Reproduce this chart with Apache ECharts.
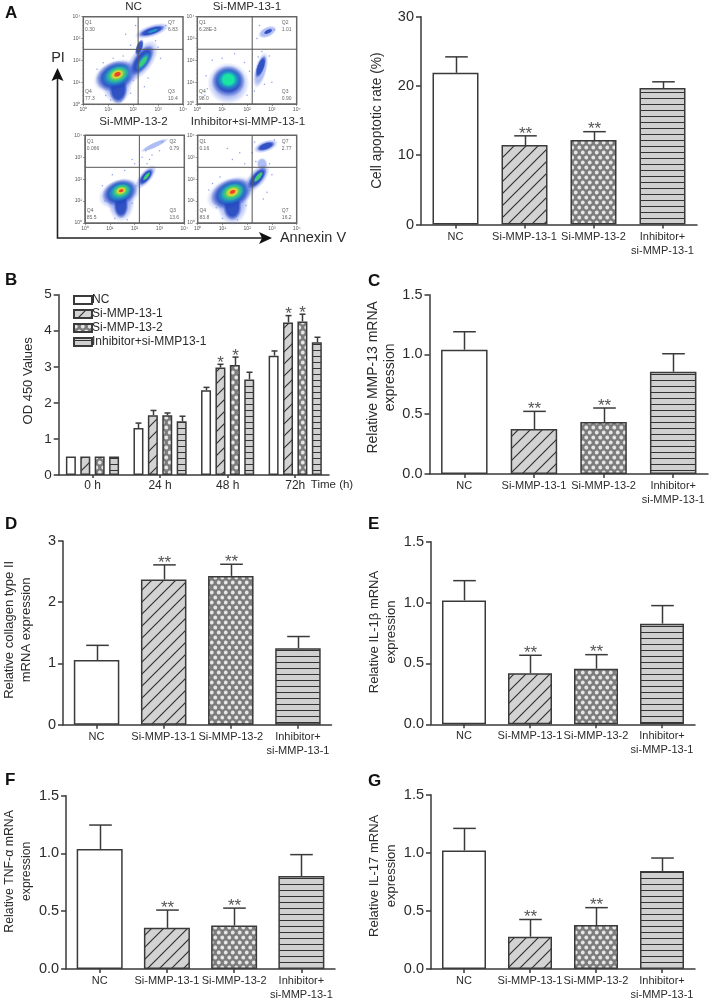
<!DOCTYPE html>
<html><head><meta charset="utf-8">
<style>html,body{margin:0;padding:0;background:#fff}#c{width:709px;height:1002px;filter:blur(0.35px)}</style>
<script src="https://cdn.jsdelivr.net/npm/echarts@6/dist/echarts.min.js"></script>
</head><body><div id="c"></div>
<script>
// ---------- DATA ----------
const categories = ['NC','Si-MMP-13-1','Si-MMP-13-2','Inhibitor+\nsi-MMP-13-1'];
const apoptosisMean = [21.9,11.46,12.2,19.7];
const apoptosisTop  = [24.2,12.8,13.4,20.6];
const apoptosisStar = ['','**','**',''];
const mmp13Mean = [1.04,0.376,0.435,0.856];
const mmp13Top  = [1.19,0.524,0.552,1.006];
const mmp13Star = ['','**','**',''];
const collagenMean = [1.056,2.37,2.43,1.25];
const collagenTop  = [1.296,2.61,2.62,1.44];
const collagenStar = ['','**','**',''];
const il1bMean = [1.018,0.419,0.457,0.827];
const il1bTop  = [1.18,0.567,0.572,0.975];
const il1bStar = ['','**','**',''];
const tnfMean = [1.038,0.356,0.376,0.804];
const tnfTop  = [1.246,0.51,0.527,0.99];
const tnfStar = ['','**','**',''];
const il17Mean = [1.02,0.278,0.378,0.844];
const il17Top  = [1.21,0.426,0.528,0.955];
const il17Star = ['','**','**',''];

const odTimes = ['0 h','24 h','48 h','72h'];
const odNames = ['NC','Si-MMP-13-1','Si-MMP-13-2','Inhibitor+si-MMP13-1'];
const odNC    = [0.51,1.30,2.35,3.31];
const odNCTop = [0.51,1.44,2.43,3.44];
const odS1    = [0.51,1.66,2.98,4.23];
const odS1Top = [0.51,1.79,3.07,4.42];
const odS2    = [0.51,1.66,3.05,4.26];
const odS2Top = [0.51,1.72,3.27,4.46];
const odIn    = [0.51,1.49,2.65,3.68];
const odInTop = [0.51,1.63,2.85,3.82];
const odNCStar = ['','','',''];
const odS1Star = ['','','*','*'];
const odS2Star = ['','','*','*'];
const odInStar = ['','','',''];

// flow cytometry: density regions [log x, log y, radius x, radius y (decades), tilt, density level]
const flowNCRegions = [[1.35,1.0,.62,1.0,0,0],[1.35,1.3,1.0,.72,20,0],[1.4,.7,.38,.7,0,1],[1.3,1.3,.85,.66,22,1],[1.35,1.33,.65,.5,22,2],[1.36,1.35,.47,.36,22,3],[1.36,1.36,.3,.23,22,4],[1.37,1.37,.16,.12,22,5],[2.35,2.0,.95,.52,55,0],[2.25,2.6,.35,.16,70,1],[2.35,2.0,.72,.36,55,1],[2.4,1.95,.45,.2,55,2],[2.4,1.95,.3,.12,55,3],[2.75,3.35,.72,.28,18,0],[2.75,3.35,.55,.18,18,1],[2.8,3.35,.25,.07,18,2]];
const flowS1Regions = [[1.25,.95,.85,.95,0,0],[1.25,1.05,.68,.72,0,1],[1.25,1.12,.52,.5,0,2],[1.25,1.12,.33,.34,0,6],[2.55,1.55,.75,.28,75,0],[2.55,1.7,.48,.18,70,1],[2.82,3.3,.4,.24,25,0],[2.85,3.32,.2,.1,25,1]];
const flowS2Regions = [[1.45,1.0,.55,.95,0,0],[1.4,1.35,.9,.65,20,0],[1.45,.8,.3,.6,0,1],[1.4,1.4,.74,.58,20,1],[1.43,1.43,.55,.43,20,2],[1.45,1.46,.38,.3,20,3],[1.45,1.47,.24,.18,20,4],[1.46,1.47,.11,.08,20,5],[2.45,2.1,.6,.28,50,0],[2.45,2.1,.42,.2,50,1],[2.48,2.13,.22,.09,50,3],[2.8,3.55,.62,.13,25,0]];
const flowInRegions = [[1.4,.95,.65,1.05,0,0],[1.35,1.35,1.05,.72,22,0],[1.4,.75,.38,.65,0,1],[1.35,1.35,.88,.66,22,1],[1.38,1.38,.65,.5,22,2],[1.4,1.4,.47,.36,22,3],[1.4,1.41,.3,.23,22,4],[1.41,1.42,.14,.1,22,5],[2.4,2.05,.7,.38,50,0],[2.6,2.7,.22,.28,0,0],[2.4,2.05,.55,.26,50,1],[2.45,2.1,.28,.11,50,3],[2.75,3.5,.52,.26,20,0],[2.75,3.5,.38,.17,20,1]];
// sparse single events
const flowNCEvents = [[.55,1.6],[.7,.9],[.9,.4],[1.1,.2],[1.5,.15],[1.9,.5],[2.0,1.1],[2.6,1.2],[3.0,2.6],[3.1,2.1],[1.9,2.7],[1.7,3.2],[2.1,3.6],[2.9,2.9],[.6,1.2],[1.2,2.1],[1.6,2.2],[2.45,.8],[3.3,3.6],[.8,1.9]];
const flowS1Events = [[.35,1.3],[.4,.7],[.6,2.0],[1.0,2.1],[1.5,2.3],[1.9,1.9],[2.1,1.5],[2.3,.6],[2.7,.9],[2.6,2.4],[2.9,2.2],[2.4,3.0],[2.5,3.6],[3.1,3.4],[3.0,1.0],[2.0,.4],[.3,.4],[2.45,2.15]];
const flowS2Events = [[.7,1.7],[.8,1.0],[1.2,.2],[1.7,.15],[1.9,.9],[2.05,1.7],[2.0,2.7],[1.9,2.9],[2.3,3.0],[2.5,2.7],[2.7,3.1],[3.1,3.7],[2.45,3.3],[3.0,3.3],[1.6,2.4],[1.1,2.2],[2.6,2.9]];
const flowInEvents = [[.45,1.5],[.6,1.8],[.75,.7],[1.0,.2],[1.6,.15],[1.95,.8],[2.1,1.5],[1.9,2.7],[1.7,3.2],[1.4,2.9],[2.2,3.2],[2.3,3.7],[3.1,3.8],[3.0,2.2],[2.8,1.4],[.9,2.1],[1.2,3.4],[2.65,1.1],[2.35,2.8],[2.9,2.7]];
const flowNCLabels = [[.07,3.55,'Q1\n0.30',0],[3.4,3.55,'Q7\n6.83',0],[.07,.42,'Q4\n77.3',0],[3.4,.42,'Q3\n10.4',0]];
const flowS1Labels = [[.07,3.55,'Q1\n6.28E-3',0],[3.4,3.55,'Q2\n1.01',0],[.07,.42,'Q4\n98.0',0],[3.4,.42,'Q3\n0.90',0]];
const flowS2Labels = [[.07,3.55,'Q1\n0.066',0],[3.4,3.55,'Q2\n0.79',0],[.07,.42,'Q4\n85.5',0],[3.4,.42,'Q3\n13.6',0]];
const flowInLabels = [[.07,3.55,'Q1\n0.16',0],[3.4,3.55,'Q7\n2.77',0],[.07,.42,'Q4\n83.8',0],[3.4,.42,'Q7\n16.2',0]];
const flowGates = {NC:[2.2,2.51],S1:[2.21,2.51],S2:[2.19,2.54],In:[2.2,2.54]};
const flowTicks = ['10\u2070','10\u00b9','10\u00b2','10\u00b3','10\u2074'];

// ---------- STYLE ----------
const FONT='"Liberation Sans",Arial,sans-serif', INK='#3a3a3a', TXT='#2b2b2b';
function tile(w,h,draw){const c=document.createElement('canvas');c.width=w;c.height=h;draw(c.getContext('2d'),w,h);return {image:c,repeat:'repeat'};}
const fillHatch=tile(12,12,(g,w,h)=>{g.fillStyle='#d3d3d3';g.fillRect(0,0,w,h);g.strokeStyle='#333';g.lineWidth=1.2;
  [[-1,13,13,-1],[-13,13,1,-1],[11,13,25,-1]].forEach(l=>{g.beginPath();g.moveTo(l[0],l[1]);g.lineTo(l[2],l[3]);g.stroke();});});
const fillDots=tile(7,10,(g,w,h)=>{g.fillStyle='#7c7c7c';g.fillRect(0,0,w,h);g.fillStyle='#e6e6e6';
  [[1.75,2.5],[5.25,7.5]].forEach(p=>{g.beginPath();g.arc(p[0],p[1],1.9,0,7);g.fill();});
  [[5.25,-2.5],[1.75,12.5],[-1.75,7.5],[8.75,2.5]].forEach(p=>{g.beginPath();g.arc(p[0],p[1],1.9,0,7);g.fill();});});
const fillLines=tile(2,6,(g,w,h)=>{g.fillStyle='#d0d0d0';g.fillRect(0,0,w,h);g.fillStyle='#333';g.fillRect(0,2,w,1);});
const fills=['#ffffff',fillHatch,fillDots,fillLines];

const densityRGB=['110,135,235','35,70,190','35,150,200','60,205,120','215,210,60','235,70,35','25,230,160'];
const densityAlpha=[.55,.9,.95,1,1,1,1];
function densityFill(l){const c=densityRGB[l],a=densityAlpha[l];return {type:'radial',x:.5,y:.5,r:.5,colorStops:[{offset:0,color:`rgba(${c},${a})`},{offset:.65,color:`rgba(${c},${a})`},{offset:1,color:`rgba(${c},0)`}]};}

// ---------- BUILD ----------
const grids=[],xAxes=[],yAxes=[],series=[];
function addGrid(b){grids.push({left:b.l,top:b.t,width:b.r-b.l,height:b.b-b.t,containLabel:false,show:!!b.box,borderColor:'#666',borderWidth:1.5,backgroundColor:'transparent'});return grids.length-1;}

function errorSeries(gi,means,tops,stars,off,cap,starSize,starGap,starColor){
  return {type:'custom',xAxisIndex:gi,yAxisIndex:gi,silent:true,clip:false,z:3,
    data:tops.map((t,i)=>[i,t,means[i],stars[i]]),encode:{x:0,y:1},
    renderItem(p,api){
      const i=api.value(0),top=api.coord([i,api.value(1)]),bot=api.coord([i,api.value(2)]),x=Math.round(top[0]+off)+.5;
      const s={stroke:INK,lineWidth:1.5};const kids=[];
      if(api.value(1)>api.value(2)+.001){
        kids.push({type:'line',shape:{x1:x,y1:bot[1],x2:x,y2:top[1]},style:s});
        kids.push({type:'line',shape:{x1:x-cap,y1:top[1],x2:x+cap,y2:top[1]},style:s});
      }
      const st=stars[i];
      if(st) kids.push({type:'text',style:{text:st,x:x,y:top[1]-starGap,align:'center',verticalAlign:'middle',fill:starColor,font:`${starSize}px ${FONT}`}});
      return {type:'group',children:kids};
    }};
}
function barPanel(spec){
  const gi=addGrid(spec.box);
  xAxes.push({type:'category',gridIndex:gi,data:categories,
    axisLine:{lineStyle:{color:INK,width:1.5}},axisTick:{show:true,alignWithLabel:true,length:4,lineStyle:{color:INK,width:1.5}},
    axisLabel:{color:TXT,fontSize:11,fontFamily:FONT,lineHeight:14,margin:5,interval:0}});
  yAxes.push({type:'value',gridIndex:gi,min:0,max:spec.max,interval:spec.step,
    name:spec.name,nameLocation:'middle',nameGap:spec.gap,nameRotate:90,
    nameTextStyle:{color:TXT,fontSize:spec.nameSize,fontFamily:FONT,lineHeight:17,padding:[0,0,0,spec.shift||0]},
    axisLine:{show:true,lineStyle:{color:INK,width:1.5}},axisTick:{show:true,length:5,lineStyle:{color:INK,width:1.5}},splitLine:{show:false},
    axisLabel:{color:TXT,fontSize:spec.tickSize||14.5,fontFamily:FONT,margin:7,formatter:spec.fmt}});
  series.push({type:'bar',xAxisIndex:gi,yAxisIndex:gi,barWidth:spec.barW,silent:true,
    data:spec.means.map((v,i)=>({value:v,itemStyle:{color:fills[i],borderColor:INK,borderWidth:1.5}}))});
  series.push(errorSeries(gi,spec.means,spec.tops,spec.stars,0,spec.cap||11.3,17,2,'#555'));
}
const f1=v=>v.toFixed(1);
barPanel({box:{l:421,t:16.7,r:697,b:224.5},max:30,step:10,means:apoptosisMean,tops:apoptosisTop,stars:apoptosisStar,barW:46,name:'Cell apoptotic rate (%)',gap:35,nameSize:13.8});
barPanel({box:{l:429.5,t:294.7,r:708,b:474},max:1.5,step:.5,fmt:f1,means:mmp13Mean,tops:mmp13Top,stars:mmp13Star,barW:46.5,name:'Relative MMP-13 mRNA\nexpression',gap:28,shift:14,nameSize:14});
barPanel({box:{l:59.3,t:541,r:331.5,b:724.7},max:3,step:1,means:collagenMean,tops:collagenTop,stars:collagenStar,barW:45.5,name:'Relative collagen type II\nmRNA expression',gap:28,shift:6,nameSize:13});
barPanel({box:{l:431,t:541.7,r:695,b:724.3},max:1.5,step:.5,fmt:f1,means:il1bMean,tops:il1bTop,stars:il1bStar,barW:44,name:'Relative IL-1\u03b2 mRNA\nexpression',gap:28,shift:2,nameSize:13});
barPanel({box:{l:59.3,t:795.7,r:335,b:971},max:1.5,step:.5,fmt:f1,means:tnfMean,tops:tnfTop,stars:tnfStar,barW:46,name:'Relative TNF-\u03b1 mRNA\nexpression',gap:28,shift:22,nameSize:12.3});
barPanel({box:{l:431,t:794.7,r:695,b:970.7},max:1.5,step:.5,fmt:f1,means:il17Mean,tops:il17Top,stars:il17Star,barW:44,name:'Relative IL-17 mRNA\nexpression',gap:27,shift:12,nameSize:13});

// Panel B: grouped bars
const gb=addGrid({l:58.7,t:294.7,r:329,b:475});
xAxes.push({type:'category',gridIndex:gb,data:odTimes,axisLine:{lineStyle:{color:INK,width:1.5}},
  axisTick:{show:true,alignWithLabel:true,length:3,lineStyle:{color:INK,width:1.5}},axisLabel:{color:TXT,fontSize:12,fontFamily:FONT,margin:5}});
yAxes.push({type:'value',gridIndex:gb,min:0,max:5,interval:1,name:'OD 450 Values',nameLocation:'middle',nameGap:24,nameRotate:90,
  nameTextStyle:{color:TXT,fontSize:13,fontFamily:FONT,padding:[0,0,0,8]},
  axisLine:{show:true,lineStyle:{color:INK,width:1.5}},axisTick:{show:true,length:5,lineStyle:{color:INK,width:1.5}},splitLine:{show:false},
  axisLabel:{color:TXT,fontSize:13.5,fontFamily:FONT,margin:7}});
[[odNC,odNCTop,odNCStar],[odS1,odS1Top,odS1Star],[odS2,odS2Top,odS2Star],[odIn,odInTop,odInStar]].forEach((d,k)=>{
  series.push({type:'bar',name:odNames[k],xAxisIndex:gb,yAxisIndex:gb,barWidth:10,barGap:'44%',silent:true,data:d[0],
    itemStyle:{color:fills[k],borderColor:INK,borderWidth:1.5}});
});
[[odNC,odNCTop,odNCStar],[odS1,odS1Top,odS1Star],[odS2,odS2Top,odS2Star],[odIn,odInTop,odInStar]].forEach((d,k)=>{
  series.push(errorSeries(gb,d[0],d[1],d[2],(k-1.5)*14.4,3,17,1,'#555'));
});

// Panel A: flow plots
function flowPanel(box,regions,events,labels,gate){
  const gi=addGrid(Object.assign({box:true},box));
  const ax={type:'value',gridIndex:gi,min:0,max:4,interval:1,splitLine:{show:false},
    axisLine:{show:true,onZero:false,lineStyle:{color:'#666',width:1}},
    axisTick:{show:true,length:2,lineStyle:{color:'#666',width:.7}},
    minorTick:{show:true,splitNumber:5,length:1,lineStyle:{color:'#777',width:.5}},
    axisLabel:{color:'#555',fontSize:5,fontFamily:FONT,margin:3,formatter:v=>flowTicks[v]||''}};
  xAxes.push(Object.assign({},ax));yAxes.push(Object.assign({},ax));
  series.push({type:'custom',xAxisIndex:gi,yAxisIndex:gi,silent:true,data:regions,encode:{x:0,y:1},z:2,
    renderItem(p,api){const c=api.coord([api.value(0),api.value(1)]),s=api.size([1,1]);
      return {type:'circle',x:c[0],y:c[1],rotation:api.value(4)*Math.PI/180,
        scaleX:api.value(2)*s[0]/10,scaleY:api.value(3)*s[1]/10,
        shape:{cx:0,cy:0,r:10},style:{fill:densityFill(api.value(5))}};}});
  series.push({type:'scatter',xAxisIndex:gi,yAxisIndex:gi,silent:true,data:events,symbolSize:1.5,z:2,itemStyle:{color:'#6f8be8'}});
  series.push({type:'custom',xAxisIndex:gi,yAxisIndex:gi,silent:true,data:[gate],encode:{x:0,y:1},z:4,
    renderItem(p,api){const c=api.coord([api.value(0),api.value(1)]),a=api.coord([0,0]),b=api.coord([4,4]);
      const s={stroke:'#555',lineWidth:1};
      return {type:'group',children:[{type:'line',shape:{x1:c[0],y1:a[1],x2:c[0],y2:b[1]},style:s},{type:'line',shape:{x1:a[0],y1:c[1],x2:b[0],y2:c[1]},style:s}]};}});
  series.push({type:'custom',xAxisIndex:gi,yAxisIndex:gi,silent:true,data:labels,encode:{x:0,y:1},z:5,
    renderItem(p,api){const c=api.coord([api.value(0),api.value(1)]);
      return {type:'text',style:{text:labels[p.dataIndex][2],x:c[0],y:c[1],align:'left',verticalAlign:'middle',fill:'#666',font:`5px ${FONT}`,lineHeight:7}};}});
}
flowPanel({l:83.3,t:16.7,r:183,b:104.3},flowNCRegions,flowNCEvents,flowNCLabels,flowGates.NC);
flowPanel({l:197.3,t:16.7,r:296.7,b:104},flowS1Regions,flowS1Events,flowS1Labels,flowGates.S1);
flowPanel({l:85,t:135.3,r:184.3,b:223},flowS2Regions,flowS2Events,flowS2Labels,flowGates.S2);
flowPanel({l:197.7,t:135.3,r:296.7,b:223},flowInRegions,flowInEvents,flowInLabels,flowGates.In);

// Text and arrows
const txt=(t,x,y,size,o)=>Object.assign({type:'text',x,y,z:10,style:Object.assign({text:t,fill:TXT,font:`${size}px ${FONT}`,align:'center',verticalAlign:'middle'},o||{})});
const bold=(t,x,y)=>({type:'text',x,y,z:10,style:{text:t,fill:'#111',font:`bold 17px ${FONT}`,align:'left',verticalAlign:'middle'}});
const graphic=[
  bold('A',5,13),bold('B',5,280),bold('C',368,281),bold('D',5,524),bold('E',368,524),bold('F',5,780),bold('G',368,781),
  txt('NC',133.5,7,11.6),txt('Si-MMP-13-1',247,7,11.6),txt('Si-MMP-13-2',133.5,122,11.6),txt('Inhibitor+si-MMP-13-1',248,122,11.6),
  txt('PI',58,58,14.5),txt('Annexin V',313,238,14.5),
  {type:'polyline',z:10,shape:{points:[[57.5,76],[57.5,238],[263,238]]},style:{stroke:'#222',lineWidth:1.6,fill:null}},
  {type:'polygon',z:10,shape:{points:[[57.5,68],[63.5,81],[57.5,78.5],[51.5,81]]},style:{fill:'#111'}},
  {type:'polygon',z:10,shape:{points:[[272,238],[259,232],[262,238],[259,244]]},style:{fill:'#111'}},
  txt('Time (h)',332,485,11.5)
];

const chart=echarts.init(document.getElementById('c'),null,{renderer:'canvas',width:709,height:1002});
chart.setOption({animation:false,backgroundColor:'#fff',grid:grids,xAxis:xAxes,yAxis:yAxes,series,graphic,
  legend:{show:true,data:odNames,orient:'vertical',left:73,top:294,padding:0,icon:'rect',itemWidth:18,itemHeight:8,itemGap:2,selectedMode:false,
    textStyle:{color:TXT,fontSize:12,fontFamily:FONT,padding:[0,0,0,-5]}}});
</script></body></html>
